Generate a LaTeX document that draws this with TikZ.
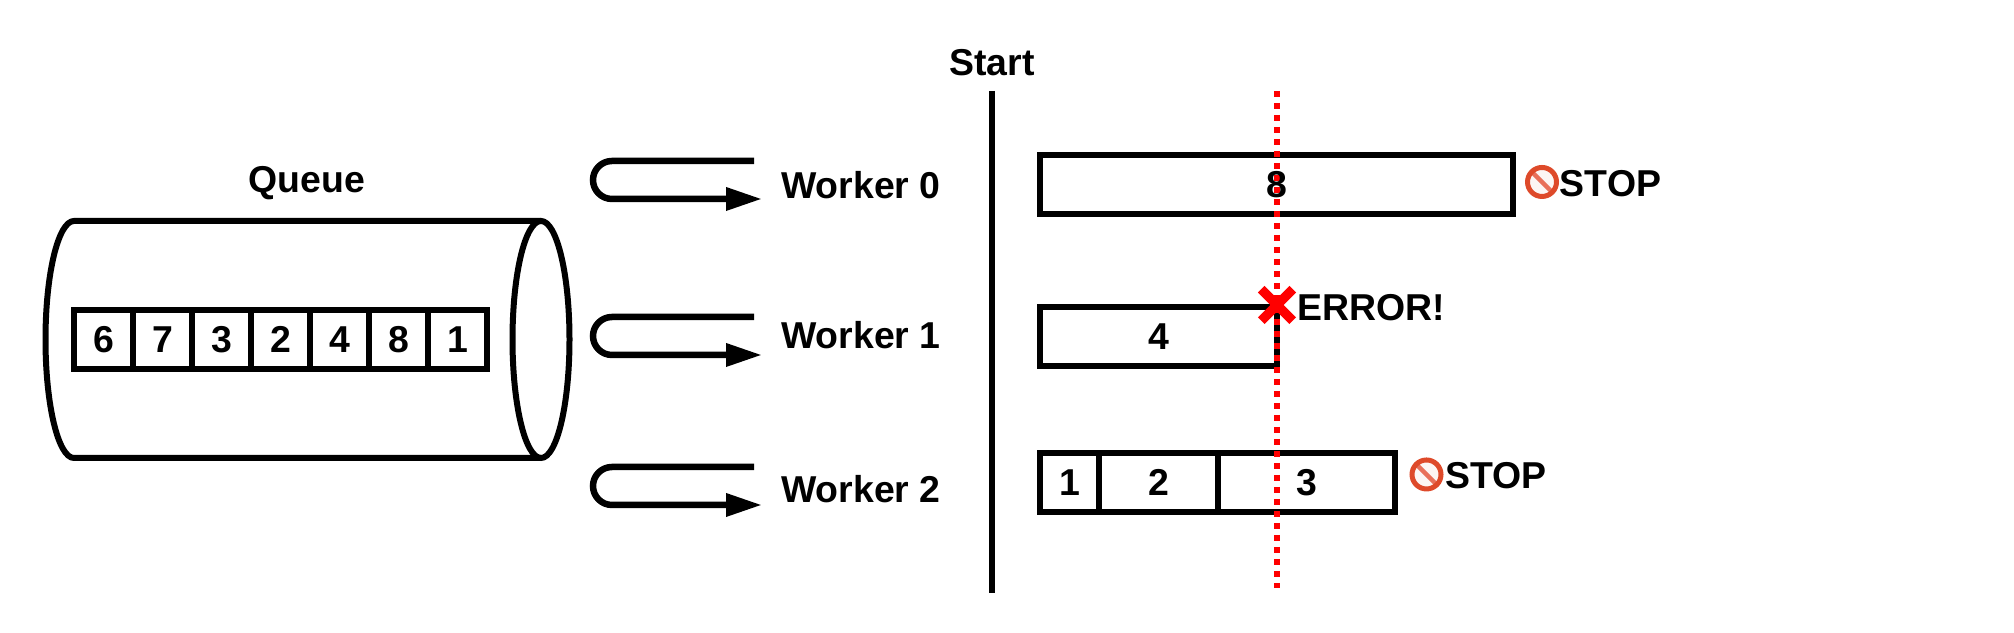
\documentclass[tikz,border=0pt]{standalone}
\usepackage{fontspec}
\setmainfont{Liberation Sans}
\usetikzlibrary{arrows.meta}
\usetikzlibrary{shapes.misc,calc}
\definecolor{stopring}{HTML}{DE4A2A}
\definecolor{stopbar}{HTML}{E8705A}
\definecolor{stopface}{HTML}{FCF6F4}
\tikzset{
	every node/.style={inner sep=0pt,font=\bfseries\fontsize{10.65}{12}\selectfont},
	thickline/.style={draw=black,line width=0.06cm},
	cellbox/.style={thickline,minimum height=0.59cm,minimum width=#1},
	cellbox/.default=0.59cm,
	uturn/.style={line width=0.065cm,-{Triangle[length=0.36cm,width=0.22cm]}},
	deadline/.style={draw=red,line width=0.06cm,dash pattern=on 0.065cm off 0.055cm},
	stopicon/.style={circle,draw=stopring,fill=stopface,line width=0.05cm,minimum size=0.29cm,
		path picture={\draw[stopbar,line width=0.045cm] (path picture bounding box.north west)--(path picture bounding box.south east);}}
}
\begin{document}
\begin{tikzpicture}
		\useasboundingbox (0,0) rectangle (20.14,6.33);

		\coordinate(Q1) at (5.41, 4.12);
		\coordinate(Q2) at (5.41, 1.75);
		\coordinate(Q3) at (0.74, 4.12);
		\coordinate(Q4) at (0.74, 1.75);
		\coordinate(T0) at (7.54, 4.72);
		\coordinate(H0) at (7.62, 4.34);
		\coordinate(T1) at (7.54, 3.16);
		\coordinate(H1) at (7.62, 2.78);
		\coordinate(T2) at (7.54, 1.66);
		\coordinate(H2) at (7.62, 1.28);
		\coordinate(S1) at (9.92, 5.42);
		\coordinate(S2) at (9.92, 0.40);
		\coordinate(R1) at (12.765, 5.42);
		\coordinate(R2) at (12.765, 0.45);

		\draw[thickline] (Q1)--(Q3) arc [start angle=90, end angle=270, x radius=0.285cm, y radius=1.185cm]--(Q2);
		\draw[thickline] (5.41, 2.935) ellipse [x radius=0.285cm, y radius=1.185cm];
		\node (queuetext) at (3.07, 4.50) {Queue};

		\node[cellbox] (cell1) at (1.035, 2.935) {6};
		\node[cellbox] (cell2) at (1.625, 2.935) {7};
		\node[cellbox] (cell3) at (2.215, 2.935) {3};
		\node[cellbox] (cell4) at (2.805, 2.935) {2};
		\node[cellbox] (cell5) at (3.395, 2.935) {4};
		\node[cellbox] (cell6) at (3.985, 2.935) {8};
		\node[cellbox] (cell7) at (4.575, 2.935) {1};

		\draw[uturn] (T0)--(6.12, 4.72) arc [start angle=90, end angle=270, radius=0.19cm]--(H0);
		\draw[uturn] (T1)--(6.12, 3.16) arc [start angle=90, end angle=270, radius=0.19cm]--(H1);
		\draw[uturn] (T2)--(6.12, 1.66) arc [start angle=90, end angle=270, radius=0.19cm]--(H2);

		\node (worker0) at (8.61, 4.48) {Worker 0};
		\node (worker1) at (8.61, 2.98) {Worker 1};
		\node (worker2) at (8.61, 1.44) {Worker 2};

		\node (start) at (9.92, 5.70) {Start};
		\draw[thickline] (S1)--(S2);

		\node[cellbox=4.73cm] (box0) at (12.765, 4.485) {};
		\node[cellbox=2.37cm] (box1) at (11.585, 2.965) {4};
		\node[cellbox=0.59cm] (box2) at (10.695, 1.505) {1};
		\node[cellbox=1.19cm] (box3) at (11.585, 1.505) {2};
		\node[cellbox=1.77cm] (box4) at (13.065, 1.505) {3};

		\draw[deadline] (R1)--(R2);
		\node (eight) at (box0) {8};

		\node[cross out,draw=red,line width=0.095cm,minimum size=0.22cm] (fail) at (12.77, 3.28) {};
		\node (failtext) at (13.71, 3.255) {ERROR!};

		\node[stopicon] (stop0) at (15.42, 4.51) {};
		\node (stoptext0) at (16.105, 4.49) {STOP};
		\node[stopicon] (stop2) at (14.265, 1.585) {};
		\node (stoptext2) at (14.96, 1.57) {STOP};

	\end{tikzpicture}
\end{document}
